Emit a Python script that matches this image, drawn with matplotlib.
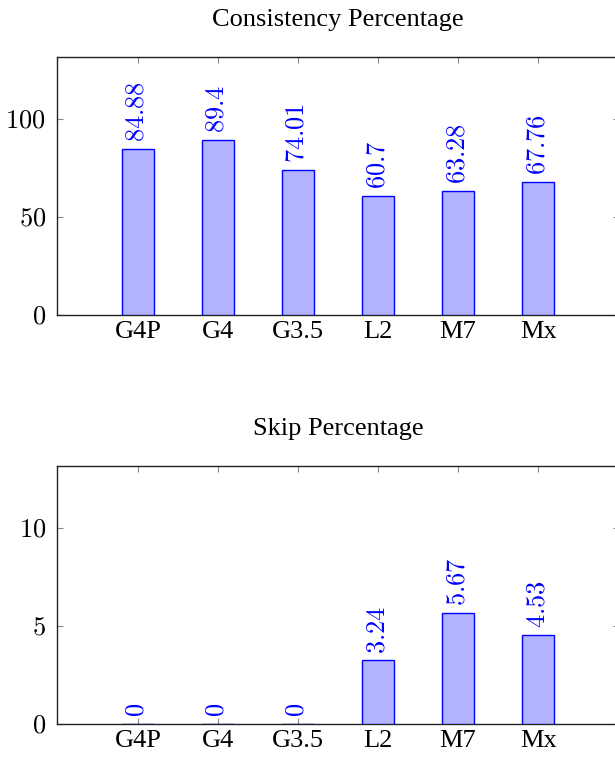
import matplotlib
matplotlib.use("Agg")
import matplotlib.pyplot as plt

categories = ["G4P", "G4", "G3.5", "L2", "M7", "Mx"]
consistency = [84.88, 89.4, 74.01, 60.7, 63.28, 67.76]
skip = [0, 0, 0, 3.24, 5.67, 4.53]

plt.rcParams['mathtext.fontset'] = 'cm'
plt.rcParams['font.family'] = ['Liberation Serif', 'DejaVu Serif']

W, H = 615, 758
fig = plt.figure(figsize=(W / 100, H / 100), dpi=100)

FS = 19
fill = (0.7, 0.7, 1.0)
edge = (0, 0, 1)


def panel(rect, values, title, ylim, yticks):
    ax = fig.add_axes(rect)
    x = list(range(len(categories)))
    bars = ax.bar(x, values, width=0.4, color=fill, edgecolor=edge, linewidth=1.0, zorder=3)
    for xi, v in zip(x, values):
        txt = f"{v:g}"
        ax.annotate(f"${txt}$", (xi, v), xytext=(0, 5), textcoords="offset points",
                    rotation=90, ha="center", va="bottom", color=edge, fontsize=FS)
    ax.set_xlim(-1.01, 6.01)
    ax.set_ylim(0, ylim)
    ax.set_xticks(x)
    ax.set_xticklabels(categories, fontsize=FS)
    ax.set_yticks(yticks)
    ax.set_yticklabels([f"${t}$" for t in yticks], fontsize=FS)
    ax.tick_params(axis='both', direction='in', length=4, width=0.8, color='#888888',
                   top=True, right=True)
    ax.tick_params(axis='x', pad=4)
    ax.tick_params(axis='y', pad=8)
    for s in ax.spines.values():
        s.set_linewidth(1.0)
        s.set_color('#222222')
    ax.set_title(title, fontsize=FS, pad=22)
    return ax


top_rect = [57 / W, (H - 315) / H, 562 / W, 258 / H]
bot_rect = [57 / W, (H - 724) / H, 562 / W, 258 / H]
panel(top_rect, consistency, "Consistency Percentage", 131.6, [0, 50, 100])
panel(bot_rect, skip, "Skip Percentage", 13.16, [0, 5, 10])

fig.savefig("out.png", dpi=100)
